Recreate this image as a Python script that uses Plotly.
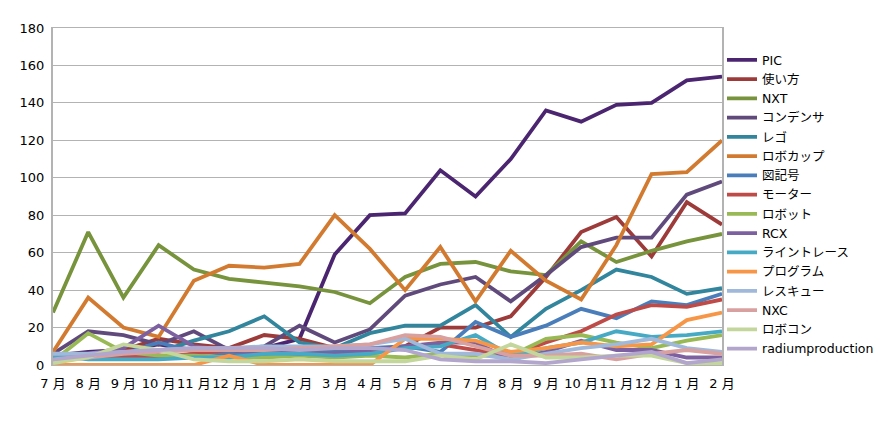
import plotly.graph_objects as go

months = ["7 月", "8 月", "9 月", "10 月", "11 月", "12 月", "1 月", "2 月", "3 月", "4 月",
          "5 月", "6 月", "7 月", "8 月", "9 月", "10 月", "11 月", "12 月", "1 月", "2 月"]

PIC = [5, 7, 8, 11, 8, 7, 9, 14, 59, 80, 81, 104, 90, 110, 136, 130, 139, 140, 152, 154]
tsukaikata = [3, 5, 8, 14, 11, 9, 16, 14, 9, 8, 10, 20, 20, 26, 47, 71, 79, 58, 87, 75]
NXT = [28, 71, 36, 64, 51, 46, 44, 42, 39, 33, 47, 54, 55, 50, 48, 66, 55, 61, 66, 70]
condenser = [6, 18, 16, 11, 18, 8, 10, 21, 12, 19, 37, 43, 47, 34, 48, 63, 68, 68, 91, 98]
lego = [5, 4, 4, 7, 13, 18, 26, 12, 9, 17, 21, 21, 32, 15, 30, 40, 51, 47, 38, 41]
robocup = [7, 36, 20, 15, 45, 53, 52, 54, 80, 62, 40, 63, 34, 61, 45, 35, 64, 102, 103, 120]
zukigou = [4, 5, 6, 12, 7, 6, 5, 8, 7, 9, 10, 7, 23, 15, 21, 30, 25, 34, 32, 38]
motor = [3, 4, 5, 4, 6, 8, 7, 6, 6, 7, 9, 11, 8, 5, 12, 18, 27, 32, 31, 35]
robot = [2, 17, 7, 5, 5, 4, 4, 5, 4, 5, 4, 6, 5, 5, 14, 16, 12, 9, 13, 16]
RCX = [3, 6, 9, 21, 10, 8, 7, 6, 6, 8, 10, 12, 12, 3, 7, 13, 8, 8, 4, 4]
linetrace = [5, 3, 3, 3, 4, 4, 6, 6, 5, 6, 9, 10, 16, 5, 9, 12, 18, 15, 16, 18]
program = [0, 0, 0, 0, 0, 5, 0, 0, 0, 0, 14, 14, 13, 7, 9, 12, 10, 11, 24, 28]
rescue = [6, 6, 7, 8, 9, 9, 10, 10, 10, 11, 14, 6, 6, 3, 6, 9, 11, 14, 9, 7]
NXC = [2, 4, 6, 7, 8, 8, 8, 9, 10, 11, 16, 15, 10, 5, 5, 6, 3, 6, 8, 6]
robocon = [1, 4, 11, 8, 3, 2, 2, 3, 2, 2, 2, 5, 3, 11, 4, 4, 5, 5, 1, 1]
radium = [3, 5, 7, 8, 9, 9, 9, 8, 9, 9, 8, 3, 2, 2, 1, 3, 5, 7, 1, 3]

series = [
    ("PIC", PIC, "#4B2570"),
    ("使い方", tsukaikata, "#9C3B39"),
    ("NXT", NXT, "#77933C"),
    ("コンデンサ", condenser, "#604A7B"),
    ("レゴ", lego, "#31859C"),
    ("ロボカップ", robocup, "#D27B30"),
    ("図記号", zukigou, "#4A7EBB"),
    ("モーター", motor, "#BE4B48"),
    ("ロボット", robot, "#98B954"),
    ("RCX", RCX, "#7D60A0"),
    ("ライントレース", linetrace, "#46AAC5"),
    ("プログラム", program, "#F79646"),
    ("レスキュー", rescue, "#A0B8DA"),
    ("NXC", NXC, "#D9A0A0"),
    ("ロボコン", robocon, "#C3D69B"),
    ("radiumproduction", radium, "#B3A6CC"),
]

x = list(range(len(months)))
fig = go.Figure()
for name, vals, col in series:
    fig.add_trace(go.Scatter(x=x, y=vals, name=name, mode="lines",
                             line=dict(color=col, width=3.8)))

font = "DejaVu Sans, Noto Sans CJK JP, sans-serif"
fig.update_layout(
    width=883, height=423,
    margin=dict(l=30, r=157, t=20, b=66),
    paper_bgcolor="white", plot_bgcolor="white",
    font=dict(family=font, size=13, color="#000000"),
    showlegend=True,
    legend=dict(x=1.0, xanchor="left", y=0.949, yanchor="top",
                font=dict(family=font, size=12.5, color="#000000"),
                itemwidth=30, tracegroupgap=0, bgcolor="rgba(0,0,0,0)"),
    xaxis=dict(range=[0, 19], tickmode="array", tickvals=x, ticktext=months,
               showgrid=False, zeroline=False, showline=True, linecolor="#B3B3B3",
               linewidth=1, mirror=True, ticks="", ticklabelstandoff=6,
               tickangle=0, tickfont=dict(size=13)),
    yaxis=dict(range=[0, 180], dtick=20, showgrid=True, gridcolor="#B3B3B3",
               gridwidth=1, zeroline=False, showline=True, linecolor="#B3B3B3",
               linewidth=2, mirror=True, ticks="", ticklabelstandoff=4,
               tickfont=dict(size=13)),
)
fig.write_html("out.html")
